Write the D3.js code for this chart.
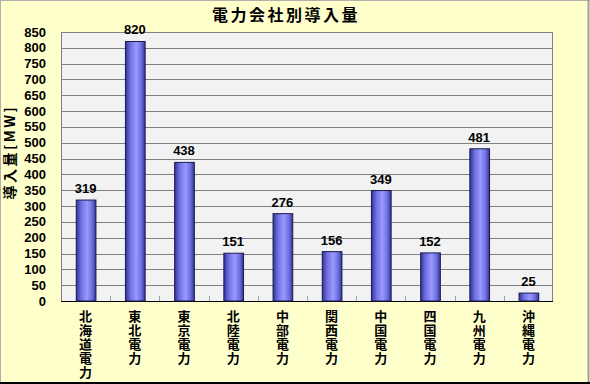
<!DOCTYPE html>
<html>
<head>
<meta charset="utf-8">
<script src="https://cdn.jsdelivr.net/npm/d3@7/dist/d3.min.js"></script>
<style>
  body { margin: 0; background: #fff; }
  text { font-family: "Liberation Sans", Arial, sans-serif; }
  .cjk { font-family: "Noto Sans CJK JP", sans-serif; }
  .vert { writing-mode: vertical-rl; text-orientation: upright; }
</style>
</head>
<body>
<div id="chart"></div>
<script>
var companies = ["北海道電力","東北電力","東京電力","北陸電力","中部電力","関西電力","中国電力","四国電力","九州電力","沖縄電力"];
var capacity = [319, 820, 438, 151, 276, 156, 349, 152, 481, 25];
var yTicks = d3.range(0, 851, 50);

var W = 590, H = 384;
var plot = {left: 61, right: 553, top: 32, bottom: 301};

var svg = d3.select("#chart").append("svg")
    .attr("width", W)
    .attr("height", H);

// chart background + border
svg.append("rect").attr("x", 0).attr("y", 0).attr("width", W).attr("height", H).attr("fill", "#FFFFCC");
svg.append("line").attr("x1", 0.5).attr("y1", 0).attr("x2", 0.5).attr("y2", H).attr("stroke", "#b0b0b0");
svg.append("line").attr("x1", 0).attr("y1", 0.5).attr("x2", W).attr("y2", 0.5).attr("stroke", "#b0b0b0");
svg.append("line").attr("x1", W - 1.5).attr("y1", 0).attr("x2", W - 1.5).attr("y2", H).attr("stroke", "#a0a0a0").attr("stroke-width", 2);
svg.append("line").attr("x1", 0).attr("y1", H - 1).attr("x2", W).attr("y2", H - 1).attr("stroke", "#000").attr("stroke-width", 2);

var defs = svg.append("defs");
var grad = defs.append("linearGradient").attr("id", "barGrad")
    .attr("x1", "0%").attr("x2", "100%").attr("y1", "0%").attr("y2", "0%");
grad.append("stop").attr("offset", "0%").attr("stop-color", "#333399");
grad.append("stop").attr("offset", "25%").attr("stop-color", "#7070e0");
grad.append("stop").attr("offset", "55%").attr("stop-color", "#9999FF");
grad.append("stop").attr("offset", "80%").attr("stop-color", "#7070e0");
grad.append("stop").attr("offset", "100%").attr("stop-color", "#333399");

var x = d3.scaleBand()
    .domain(companies)
    .range([plot.left, plot.right])
    .paddingInner(0.6)
    .paddingOuter(0.3);

var band = d3.scaleBand().domain(companies).range([plot.left, plot.right]);

var y = d3.scaleLinear()
    .domain([0, 850])
    .range([plot.bottom, plot.top]);

// plot area
svg.append("rect")
    .attr("x", plot.left).attr("y", plot.top)
    .attr("width", plot.right - plot.left).attr("height", plot.bottom - plot.top)
    .attr("fill", "#F2F2F2");

// gridlines
svg.append("g").selectAll("line").data(yTicks).join("line")
    .attr("x1", plot.left).attr("x2", plot.right)
    .attr("y1", d => Math.round(y(d)) + 0.5).attr("y2", d => Math.round(y(d)) + 0.5)
    .attr("stroke", "#808080");

svg.append("rect")
    .attr("x", plot.left + 0.5).attr("y", plot.top + 0.5)
    .attr("width", plot.right - plot.left - 1).attr("height", plot.bottom - plot.top)
    .attr("fill", "none").attr("stroke", "#808080");

// category tick marks (inside)
svg.append("g").selectAll("line").data(companies.slice(1)).join("line")
    .attr("x1", d => Math.round(band(d)) + 0.5).attr("x2", d => Math.round(band(d)) + 0.5)
    .attr("y1", plot.bottom).attr("y2", plot.bottom - 5)
    .attr("stroke", "#a0a0a0");

svg.append("line")
    .attr("x1", plot.left).attr("x2", plot.right)
    .attr("y1", plot.bottom + 0.5).attr("y2", plot.bottom + 0.5)
    .attr("stroke", "#000");

// bars
svg.append("g").selectAll("rect").data(companies).join("rect")
    .attr("x", d => x(d) + 0.5)
    .attr("y", (d, i) => y(capacity[i]))
    .attr("width", x.bandwidth())
    .attr("height", (d, i) => y(0) - y(capacity[i]))
    .attr("fill", "url(#barGrad)")
    .attr("stroke", "#1a1a4d")
    .attr("stroke-width", 1);

// value labels
svg.append("g").selectAll("text").data(companies).join("text")
    .attr("x", d => x(d) + x.bandwidth() / 2)
    .attr("y", (d, i) => y(capacity[i]) - 7)
    .attr("text-anchor", "middle")
    .attr("font-size", 13)
    .attr("font-weight", "bold")
    .text((d, i) => capacity[i]);

// y axis labels
svg.append("g").selectAll("text").data(yTicks).join("text")
    .attr("x", 46)
    .attr("y", d => y(d) + 4.5)
    .attr("text-anchor", "end")
    .attr("font-size", 13)
    .attr("font-weight", "bold")
    .text(d => d);

// x labels, vertical text
svg.append("g").selectAll("text").data(companies).join("text")
    .attr("class", "cjk vert")
    .attr("x", d => x(d) + x.bandwidth() / 2)
    .attr("y", 310)
    .attr("font-size", 13)
    .attr("font-weight", "bold")
    .attr("letter-spacing", 1)
    .text(d => d);

// title
svg.append("text")
    .attr("class", "cjk")
    .attr("x", 286).attr("y", 21)
    .attr("text-anchor", "middle")
    .attr("font-size", 16)
    .attr("font-weight", "bold")
    .attr("letter-spacing", 2.5)
    .text("電力会社別導入量");

// y axis title
svg.append("text")
    .attr("class", "cjk")
    .attr("transform", "translate(15,152) rotate(-90)")
    .attr("text-anchor", "middle")
    .attr("font-size", 14)
    .attr("font-weight", "bold")
    .attr("letter-spacing", 2.5)
    .text("導入量[MW]");
</script>
</body>
</html>
